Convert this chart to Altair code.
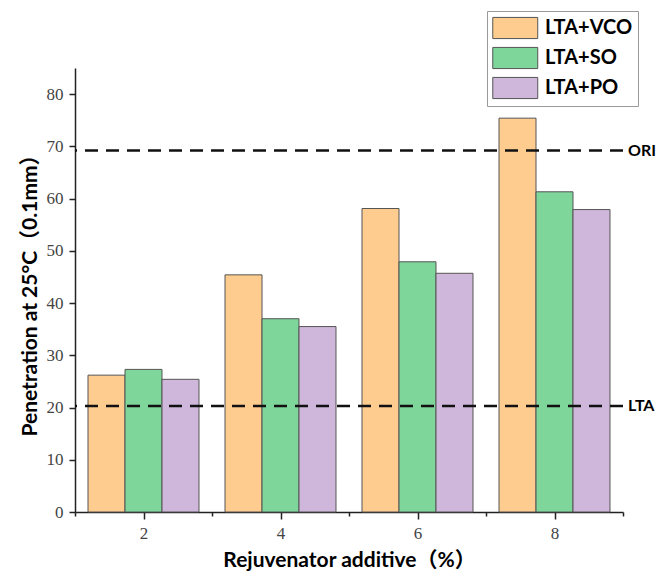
import altair as alt
import pandas as pd

rates = [2, 4, 6, 8]
series = ["LTA+VCO", "LTA+SO", "LTA+PO"]
vco = [26.2, 45.4, 58.1, 75.4]
so_ = [27.3, 37.0, 47.9, 61.3]
po = [25.4, 35.5, 45.7, 57.9]
colors = ["#FFCC8F", "#7ED69B", "#CFB6DB"]

ref_names = ["ORI", "LTA"]
ref_vals = [69.2, 20.3]

x_ticks = [1, 2, 3, 4, 5, 6, 7, 8, 9]
y_ticks = [0, 5, 10, 15, 20, 25, 30, 35, 40, 45, 50, 55, 60, 65, 70, 75, 80, 85]

rows = []
for k, (name, vals) in enumerate(zip(series, [vco, so_, po])):
    for r, v in zip(rates, vals):
        rows.append({"rate": r, "series": name, "k": k, "value": v})
df = pd.DataFrame(rows)
refs = pd.DataFrame({"name": ref_names, "value": ref_vals})

BW = 0.54
FONT = "Lato, 'Noto Sans CJK SC', sans-serif"

xscale = alt.Scale(domain=[1, 9], nice=False, zero=False)
yscale = alt.Scale(domain=[0, 85], nice=False)

xaxis = alt.Axis(
    title="Rejuvenator additive（%）",
    values=x_ticks,
    format="d",
    labelExpr="datum.value % 2 === 0 ? datum.label : ''",
    tickSize={"condition": {"test": "datum.value % 2 === 0", "value": 7}, "value": 4},
    labelPadding=6,
    titlePadding=8,
)
yaxis = alt.Axis(
    title="Penetration at 25°C（0.1mm）",
    values=y_ticks,
    format="d",
    labelExpr="datum.value % 10 === 0 ? datum.label : ''",
    tickSize={"condition": {"test": "datum.value % 10 === 0", "value": 6}, "value": 3},
    labelPadding=6,
    titlePadding=6,
)

bars = alt.Chart(df).transform_calculate(
    x0=f"datum.rate + (datum.k - 1.5) * {BW}",
    x1=f"datum.rate + (datum.k - 0.5) * {BW}",
    base="0",
).mark_bar(stroke="#555555", strokeWidth=1).encode(
    x=alt.X("x0:Q", scale=xscale, axis=xaxis),
    x2="x1:Q",
    y=alt.Y("value:Q", scale=yscale, axis=yaxis),
    y2="base:Q",
    fill=alt.Fill(
        "series:N",
        scale=alt.Scale(domain=series, range=colors),
        sort=series,
        legend=alt.Legend(
            orient="none",
            legendX=412,
            legendY=-57,
            title=None,
            symbolType="M-1,-0.94H3V0.94H-1Z",
            symbolSize=506,
            symbolStrokeColor="#555555",
            symbolStrokeWidth=1,
            symbolOpacity=1,
            labelFont=FONT,
            labelFontSize=20,
            labelFontWeight="bold",
            labelColor="#000000",
            labelOffset=29,
            strokeColor="#999999",
            fillColor="#ffffff",
            padding=5,
            rowPadding=4,
        ),
    ),
)

rules = alt.Chart(refs).mark_rule(
    color="#111111", strokeWidth=2.5, strokeDash=[13, 8]
).encode(y=alt.Y("value:Q", scale=yscale))

labels = alt.Chart(refs).transform_calculate(xpos="9").mark_text(
    align="left", baseline="middle", dx=5, font=FONT, fontSize=16,
    fontWeight="bold", color="#000000"
).encode(
    x=alt.X("xpos:Q", scale=xscale),
    y=alt.Y("value:Q", scale=yscale),
    text="name:N",
)

chart = alt.layer(bars, rules, labels).properties(
    width=548,
    height=444,
    autosize=alt.AutoSizeParams(type="none"),
    padding={"left": 67, "top": 60, "right": 33, "bottom": 61},
).configure_view(stroke=None).configure_axis(
    grid=False,
    labelFont="Liberation Serif",
    labelFontSize=17,
    labelColor="#444444",
    domainColor="#222222",
    domainWidth=1.5,
    tickColor="#222222",
    tickWidth=1.5,
    titleFont=FONT,
    titleFontSize=21,
    titleFontWeight="bold",
    titleColor="#000000",
)

chart.save("out.html", embed_options={"renderer": "svg", "actions": False})
